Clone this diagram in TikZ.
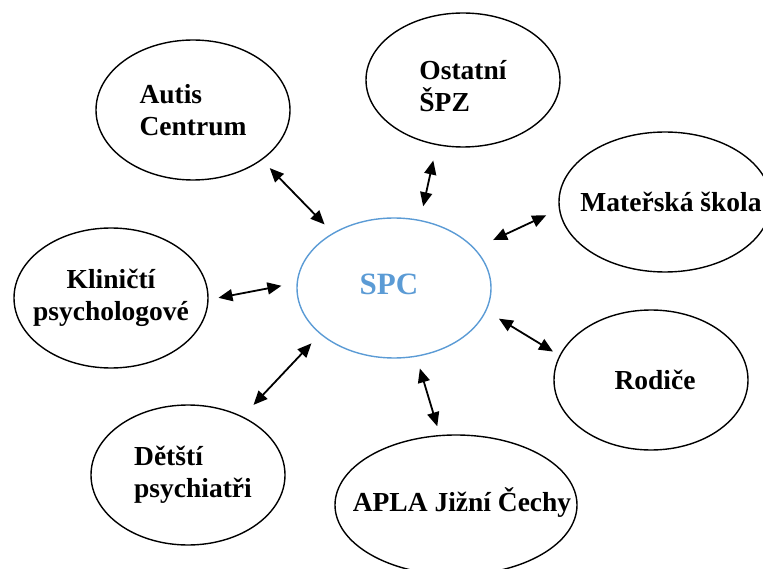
\documentclass[tikz,border=0pt]{standalone}
\usepackage{fontspec}
\setmainfont{Liberation Serif}
\usetikzlibrary{shapes.geometric,arrows.meta}
\definecolor{spcblue}{HTML}{5B9BD5}

\begin{document}
\begin{tikzpicture}
  [x=1pt,y=-1pt,>={Triangle[length=14pt,width=12pt]},
   bubble/.style={ellipse,draw,line width=1.4pt,minimum width=194pt,minimum height=140pt,inner sep=0pt},
   txt/.style={font=\fontsize{27.5}{32}\selectfont\bfseries,align=left,inner sep=0pt},
   link/.style={<->,line width=1.8pt}]
  \useasboundingbox (0,0) rectangle (763,569);
  \clip (0,0) rectangle (763,569);

  \node[bubble,draw=spcblue,label={[txt,text=spcblue,font=\fontsize{31}{36}\selectfont\bfseries,xshift=-5pt,yshift=4pt]center:SPC}] (spc) at (394,288) {};
  \node[bubble,label={[txt]center:{Autis\\Centrum}}]                      (autis)    at (193,110) {};
  \node[bubble,minimum height=134pt,label={[txt,yshift=-6pt]center:{Ostatní\\ŠPZ}}] (ostatni) at (463,80) {};
  \node[bubble,minimum width=212pt,label={[txt,xshift=6pt]center:{Mateřská škola}}] (skola) at (665,202) {};
  \node[bubble,label={[txt,align=center]center:{Kliničtí\\psychologové}}] (klinicti) at (111,298) {};
  \node[bubble,label={[txt,xshift=4pt]center:Rodiče}]                     (rodice)   at (651,380) {};
  \node[bubble,label={[txt,xshift=5pt]center:{Dětští\\psychiatři}}]        (detsti)   at (188,475) {};
  \node[bubble,minimum width=242pt,label={[txt,xshift=6pt,yshift=2pt]center:{APLA Jižní Čechy}}] (apla) at (456,505) {};

\foreach \from/\to/\sa/\sb in
{spc.138/autis.-36.7/11.8/11.2, spc.69.1/ostatni.248.6/13.9/15.7,
 spc.26.7/skola.184.6/20/14, spc.177.9/klinicti.-1/15.4/10,
 spc.212.1/detsti.47.9/12.6/15.8, spc.-14.3/rodice.165.8/14.7/7.5,
 spc.-72.6/apla.103.3/12.2/9}
    \draw[link,shorten <=\sa pt,shorten >=\sb pt] (\from) -- (\to);
\end{tikzpicture}
\end{document}
